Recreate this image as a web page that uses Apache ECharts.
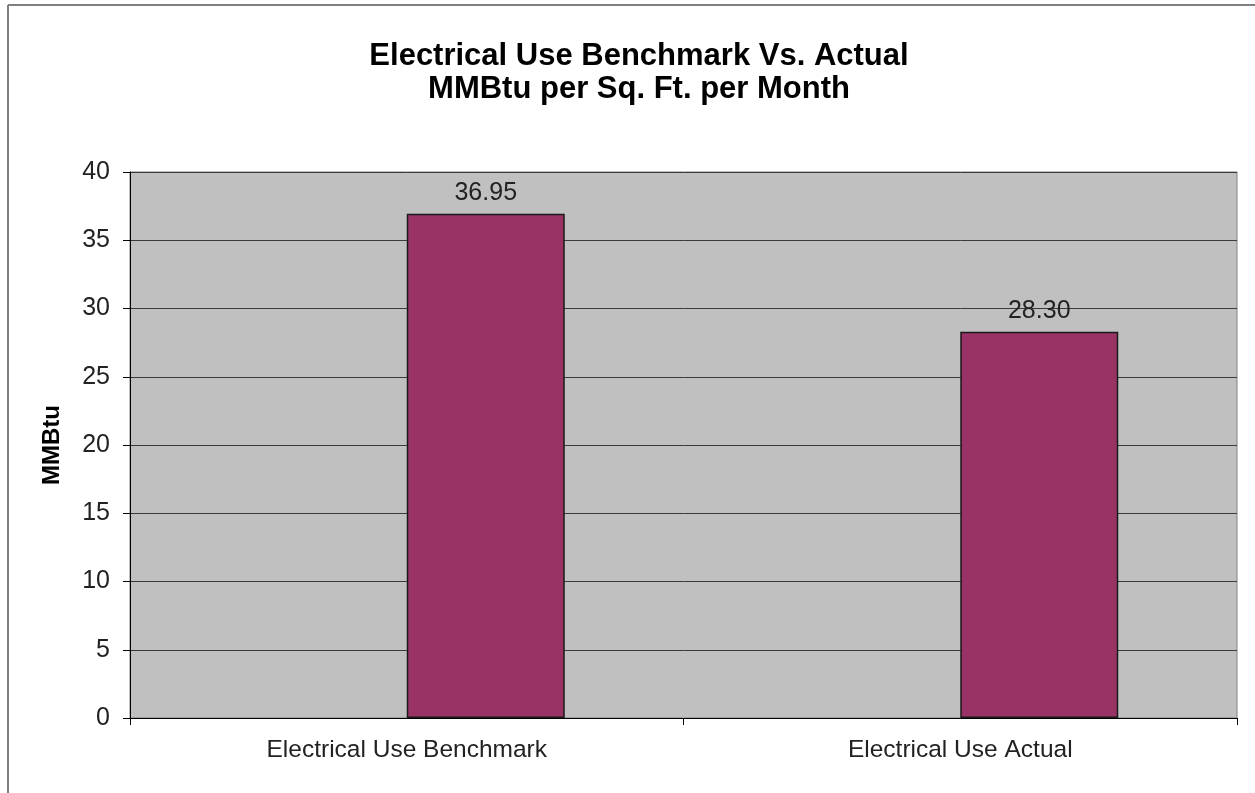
<!DOCTYPE html>
<html>
<head>
<meta charset="utf-8">
<script src="https://cdn.jsdelivr.net/npm/echarts@6/dist/echarts.min.js"></script>
<style>
  html, body { margin: 0; padding: 0; background: #ffffff; }
  #chart { width: 1255px; height: 793px; }
</style>
</head>
<body>
<div id="chart"></div>
<script>
// Electrical use: benchmark vs. actual, MMBtu per sq. ft. per month
const categories = ['Electrical Use Benchmark', 'Electrical Use Actual'];
const values = [36.95, 28.30];
const placeholder = ['-', '-'];   // empty companion series, keeps bars right of centre
const yTicks = { min: 0, max: 40, interval: 5 };

const chart = echarts.init(document.getElementById('chart'), null, { renderer: 'canvas' });

const font = '"Liberation Sans", Arial, sans-serif';

chart.setOption({
  animation: false,
  backgroundColor: '#ffffff',
  textStyle: { fontFamily: font },
  title: {
    text: 'Electrical Use Benchmark Vs. Actual\nMMBtu per Sq. Ft. per Month',
    left: 634,
    top: 35,
    textAlign: 'center',
    textStyle: { fontFamily: font, fontSize: 31, fontWeight: 'bold', color: '#000', lineHeight: 33 }
  },
  graphic: [
    { type: 'line', shape: { x1: 8, y1: 5, x2: 1255, y2: 5 }, style: { stroke: '#7f7f7f', lineWidth: 2 } },
    { type: 'line', shape: { x1: 8, y1: 5, x2: 8, y2: 793 }, style: { stroke: '#7f7f7f', lineWidth: 2 } }
  ],
  grid: {
    left: 130, right: 18, top: 172, bottom: 75,
    show: true,
    backgroundColor: '#c0c0c0',
    borderColor: '#808080',
    borderWidth: 1
  },
  xAxis: {
    type: 'category',
    data: categories,
    axisLine: { show: true, lineStyle: { color: '#000', width: 1 } },
    axisTick: { show: true, length: 7, lineStyle: { color: '#000' } },
    axisLabel: { margin: 20, fontSize: 24.5, color: '#222', fontFamily: font },
    splitLine: { show: false }
  },
  yAxis: {
    type: 'value',
    min: yTicks.min, max: yTicks.max, interval: yTicks.interval,
    name: 'MMBtu',
    nameLocation: 'middle',
    nameGap: 66,
    nameTextStyle: { fontSize: 24, fontWeight: 'bold', color: '#000', fontFamily: font },
    axisLine: { show: true, lineStyle: { color: '#000', width: 1 } },
    axisTick: { show: true, length: 7, lineStyle: { color: '#000' } },
    axisLabel: { margin: 20, fontSize: 25, color: '#222', fontFamily: font },
    splitLine: { show: true, lineStyle: { color: '#3a3a3a', width: 1 } }
  },
  series: [
    {
      type: 'bar',
      data: placeholder,
      barWidth: 158,
      barGap: '0%'
    },
    {
      type: 'bar',
      data: values,
      barWidth: 158,
      barGap: '0%',
      itemStyle: { color: '#993366', borderColor: '#1a1a1a', borderWidth: 1.5 },
      label: {
        show: true,
        position: 'top',
        distance: 8,
        formatter: p => p.value.toFixed(2),
        fontSize: 25,
        color: '#222',
        fontFamily: font
      }
    }
  ]
});
</script>
</body>
</html>
